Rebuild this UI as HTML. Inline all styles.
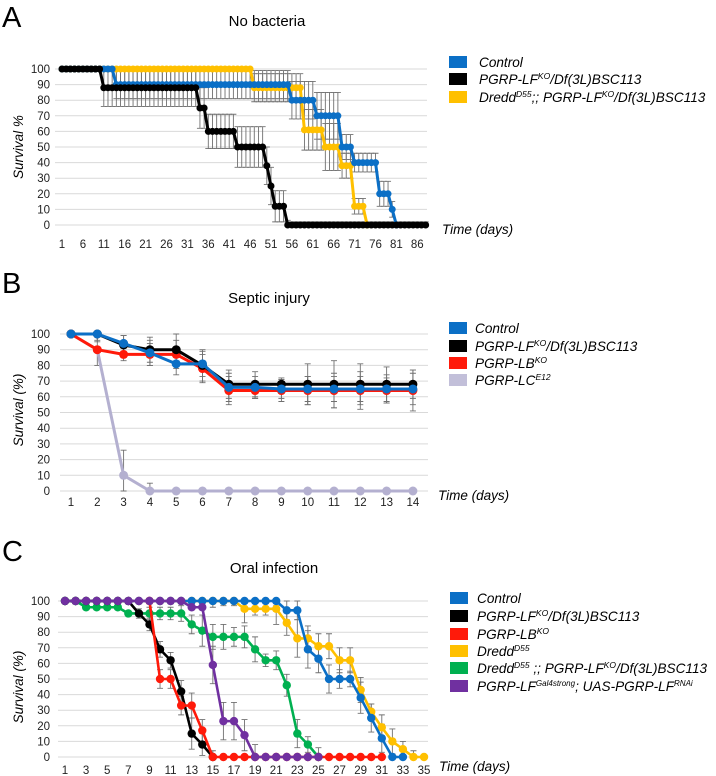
<!DOCTYPE html>
<html><head><meta charset="utf-8"><style>
html,body{margin:0;padding:0;background:#fff;}
svg{display:block;font-family:"Liberation Sans",sans-serif;}
</style></head><body>
<svg id="fig" width="716" height="776" viewBox="0 0 716 776" xmlns="http://www.w3.org/2000/svg">
<g id="static">
  <text x="2" y="27" font-size="29">A</text>
  <text x="267" y="26" font-size="15" text-anchor="middle">No bacteria</text>
  <text x="2" y="293" font-size="29">B</text>
  <text x="269" y="303" font-size="15" text-anchor="middle">Septic injury</text>
  <text x="2" y="561" font-size="29">C</text>
  <text x="274" y="573" font-size="15" text-anchor="middle">Oral infection</text>

  <g font-size="13.6" font-style="italic">
    <rect x="449" y="56" width="18" height="12" fill="#0b6fc6"/>
    <text x="479" y="67">Control</text>
    <rect x="449" y="73" width="18" height="12" fill="#000"/>
    <text x="479" y="84">PGRP-LF<tspan dy="-5" font-size="8.5">KO</tspan><tspan dy="5">/Df(3L)BSC113</tspan></text>
    <rect x="449" y="91" width="18" height="12" fill="#ffc000"/>
    <text x="479" y="102">Dredd<tspan dy="-5" font-size="8.5">D55</tspan><tspan dy="5">;; PGRP-LF</tspan><tspan dy="-5" font-size="8.5">KO</tspan><tspan dy="5">/Df(3L)BSC113</tspan></text>
  </g>
  <g font-size="13.6" font-style="italic">
    <rect x="449" y="322" width="18" height="12" fill="#0b6fc6"/>
    <text x="475" y="333">Control</text>
    <rect x="449" y="340" width="18" height="12" fill="#000"/>
    <text x="475" y="351">PGRP-LF<tspan dy="-5" font-size="8.5">KO</tspan><tspan dy="5">/Df(3L)BSC113</tspan></text>
    <rect x="449" y="357" width="18" height="12" fill="#ff1a0a"/>
    <text x="475" y="368">PGRP-LB<tspan dy="-5" font-size="8.5">KO</tspan></text>
    <rect x="449" y="374" width="18" height="12" fill="#c2bfd9"/>
    <text x="475" y="385">PGRP-LC<tspan dy="-5" font-size="8.5">E12</tspan></text>
  </g>
  <g font-size="13.6" font-style="italic">
    <rect x="450" y="592" width="18" height="12" fill="#0b6fc6"/>
    <text x="477" y="603">Control</text>
    <rect x="450" y="610" width="18" height="12" fill="#000"/>
    <text x="477" y="621">PGRP-LF<tspan dy="-5" font-size="8.5">KO</tspan><tspan dy="5">/Df(3L)BSC113</tspan></text>
    <rect x="450" y="628" width="18" height="12" fill="#ff1a0a"/>
    <text x="477" y="639">PGRP-LB<tspan dy="-5" font-size="8.5">KO</tspan></text>
    <rect x="450" y="645" width="18" height="12" fill="#ffc000"/>
    <text x="477" y="656">Dredd<tspan dy="-5" font-size="8.5">D55</tspan></text>
    <rect x="450" y="662" width="18" height="12" fill="#00b050"/>
    <text x="477" y="673">Dredd<tspan dy="-5" font-size="8.5">D55</tspan><tspan dy="5"> ;; PGRP-LF</tspan><tspan dy="-5" font-size="8.5">KO</tspan><tspan dy="5">/Df(3L)BSC113</tspan></text>
    <rect x="450" y="680" width="18" height="12" fill="#7030a0"/>
    <text x="477" y="691">PGRP-LF<tspan dy="-5" font-size="8">Gal4strong</tspan><tspan dy="5">; UAS-PGRP-LF</tspan><tspan dy="-5" font-size="8">RNAi</tspan></text>
  </g>
</g>
</svg>
<script>
// ---------- Panel A data ----------
const aDays = [];
for (let d = 1; d <= 88; d++) aDays.push(d);
const aTicks = [1,6,11,16,21,26,31,36,41,46,51,56,61,66,71,76,81,86];
const aControl = [100,100,100,100,100,100,100,100,100,100,100,100,100,
 90,90,90,90,90,90,90,90,90,90,90,90,90,90,90,90,90,90,90,90,90,90,90,90,90,90,90,90,90,90,90,90,90,90,90,90,90,90,90,90,90,90,
 80,80,80,80,80,80, 70,70,70,70,70,70, 50,50,50, 40,40,40,40,40,40, 20,20,20, 10, 0];
const aControlErr = [0,0,0,0,0,0,0,0,0,0,0,0,0,
 9,9,9,9,9,9,9,9,9,9,9,9,9,9,9,9,9,9,9,9,9,9,9,9,9,9,9,9,9,9,9,9,9,9,9,9,9,9,9,9,9,9,
 12,12,12,12,12,12, 15,15,15,15,15,15, 8,8,8, 6,6,6,6,6,6, 8,8,8, 5, 0];
const aLF = [100,100,100,100,100,100,100,100,100,100,
 88,88,88,88,88,88,88,88,88,88,88,88,88,88,88,88,88,88,88,88,88,88,88,
 75,75, 60,60,60,60,60,60,60, 50,50,50,50,50,50,50, 38,25,12,12,12,
 0,0,0,0,0,0,0,0,0,0,0,0,0,0,0,0,0,0,0,0,0,0,0,0,0,0,0,0,0,0,0,0,0,0];
const aLFErr = [0,0,0,0,0,0,0,0,0,0,
 12,12,12,12,12,12,12,12,12,12,12,12,12,12,12,12,12,12,12,12,12,12,12,
 13,13, 11,11,11,11,11,11,11, 13,13,13,13,13,13,13, 12,12,10,10,10,
 3,2,2,2,2,2,2,2,2,2,2,2,2,2,2,2,2,2,2,2,2,2,2,2,2,2,2,2,2,2,2,2,2,2];
const aDredd = [100,100,100,100,100,100,100,100,100,100,100,100,100,100,100,100,100,100,100,100,100,100,100,
 100,100,100,100,100,100,100,100,100,100,100,100,100,100,100,100,100,100,100,100,100,100,100,
 88,88,88,88,88,88,88,88,88,88,88,88, 61,61,61,61,61, 50,50,50,50, 38,38,38, 12,12,12, 0];
const aDreddErr = [0,0,0,0,0,0,0,0,0,0,0,0,0,0,0,0,0,0,0,0,0,0,0,
 0,0,0,0,0,0,0,0,0,0,0,0,0,0,0,0,0,0,0,0,0,0,0,
 9,9,9,9,9,9,9,9,9,9,9,9, 13,13,13,13,13, 15,15,15,15, 8,8,8, 5,5,5, 0];

// ---------- Panel B data ----------
const bDays = [1,2,3,4,5,6,7,8,9,10,11,12,13,14];
const bControl = [100,100,94,88,81,81,66,66,65,65,65,65,65,65];
const bControlErr = [0,5,5,8,7,8,9,7,6,8,8,8,9,10];
const bLF = [100,100,93,90,90,80,68,68,68,68,68,68,68,68];
const bLFErr = [0,4,6,8,10,10,9,8,4,13,15,13,11,9];
const bLB = [100,90,87,87,87,78,64,64,64,64,64,64,64,64];
const bLBErr = [0,10,4,7,9,9,9,5,7,9,11,12,8,13];
const bLC = [100,90,10,0,0,0,0,0,0,0,0,0,0,0];
const bLCErr = [0,0,16,5,0,0,0,0,0,0,0,0,0,0];

// ---------- Panel C data ----------
const cDays = [];
for (let d = 1; d <= 35; d++) cDays.push(d);
const cTicks = [1,3,5,7,9,11,13,15,17,19,21,23,25,27,29,31,33,35];
const cControl = [100,100,100,100,100,100,100,100,100,100,100,100,100,100,100,100,100,100,100,100,100,94,94,69,63,50,50,50,38,25,12,0,0];
const cControlErr = [0,0,0,0,0,0,0,0,0,0,0,0,0,0,0,0,0,5,4,4,3,6,6,12,9,9,6,5,10,9,9,0,0];
const cLF = [100,100,100,100,100,100,100,92,85,69,62,42,15,8,0];
const cLFErr = [0,0,0,0,0,0,0,3,4,5,5,7,10,7,4];
const cLB = [null,null,null,null,null,null,null,null,100,50,50,33,33,17,0,0,0,0,0,0,0,0,0,0,0,0,0,0,0,0,0];
const cLBErr = [0,0,0,0,0,0,0,0,0,6,6,6,8,7,0,0,0,0,0,0,0,0,0,0,0,0,0,0,0,0,0];
const cDredd = [100,100,100,100,100,100,100,100,100,100,100,100,100,100,100,100,100,95,95,95,95,86,76,76,71,71,62,62,43,29,19,10,5,0,0];
const cDreddErr = [0,0,0,0,0,0,0,0,0,0,0,0,0,0,4,3,3,9,4,4,10,8,12,8,8,8,8,8,8,5,8,8,5,4,0];
const cDreddLF = [100,100,96,96,96,96,92,92,92,92,92,92,85,81,77,77,77,77,69,62,62,46,15,8,0];
const cDreddLFErr = [0,0,0,0,0,0,0,0,4,4,4,5,6,10,8,8,6,7,8,4,6,7,9,5,6];
const cRNAi = [100,100,100,100,100,100,100,100,100,100,100,100,96,96,59,23,23,14,0,0,0,0,0,0,0];
const cRNAiErr = [0,0,0,0,0,0,0,0,0,0,0,0,0,0,12,12,12,10,8,0,0,0,0,0,0];

const SVGNS = "http://www.w3.org/2000/svg";
const svg = document.getElementById('fig');
function mk(tag, attrs, parent) {
  const e = document.createElementNS(SVGNS, tag);
  for (const k in attrs) e.setAttribute(k, attrs[k]);
  (parent || svg).appendChild(e);
  return e;
}

function drawPanel(P) {
  const g = mk('g', {});
  
  
  const xs = d => P.x0 + (d - P.d0) * P.dx;
  const ys = v => P.yBottom - v * (P.yBottom - P.yTop) / 100;
  for (let v = 0; v <= 100; v += 10) {
    const gl = mk('line', {x1: P.gx0, x2: P.gx1, y1: ys(v), y2: ys(v), stroke: '#d9d9d9', 'stroke-width': 1}, g);
    
    
    const t = mk('text', {x: 50, y: ys(v) + 4, 'font-size': 11.5, 'text-anchor': 'end', fill: '#222'}, g);
    t.textContent = v;
    
    
  }
  P.ticks.forEach(d => {
    const t = mk('text', {x: xs(d), y: P.xLabelY, 'font-size': 11.5, 'text-anchor': 'middle', fill: '#222'}, g);
    t.textContent = d;
    
    
  });
  const yt = mk('text', {x: 0, y: 0, 'font-size': 13.5, 'font-style': 'italic', 'text-anchor': 'middle', transform: 'translate(23,' + P.yTitleY + ') rotate(-90)'}, g);
  yt.textContent = P.yTitle;
  
  
  const xt = mk('text', {x: P.xTitleX, y: P.xTitleY, 'font-size': 13.5, 'font-style': 'italic'}, g);
  xt.textContent = 'Time (days)';
  
  
  P.series.forEach(s => {
    s.vals.forEach((v, i) => {
      const e = s.err[i];
      if (v === null || !e) return;
      const x = xs(P.days[i]);
      const eb = mk('path', {d: 'M' + x + ' ' + ys(Math.min(100, v + e)) + 'V' + ys(Math.max(0, v - e)) +
        'M' + (x - 3) + ' ' + ys(Math.min(100, v + e)) + 'h6M' + (x - 3) + ' ' + ys(Math.max(0, v - e)) + 'h6',
        stroke: '#707070', 'stroke-width': 0.9, fill: 'none'}, g);
      
      
    });
  });
  P.series.forEach(s => {
    const sg = mk('g', {}, g);
    
    
    let pts = [];
    s.vals.forEach((v, i) => { if (v !== null) pts.push(xs(P.days[i]) + ',' + ys(v)); });
    const pl = mk('polyline', {points: pts.join(' '), fill: 'none', stroke: s.color, 'stroke-width': P.lw, 'stroke-linejoin': 'round'}, sg);
    
    
    s.vals.forEach((v, i) => {
      if (v === null) return;
      const c = mk('circle', {cx: xs(P.days[i]), cy: ys(v), r: P.r, fill: s.color}, sg);
      
      
    });
  });
}

drawPanel({name: 'panel-a', days: aDays, ticks: aTicks, d0: 1, x0: 62, dx: 4.18, yTop: 69, yBottom: 225,
  gx0: 55, gx1: 427, xLabelY: 248, yTitle: 'Survival %', yTitleY: 147, xTitleX: 442, xTitleY: 234, lw: 3, r: 3.5,
  series: [
    {name: 'a-dredd-lf', vals: aDredd, err: aDreddErr, color: '#ffc000'},
    {name: 'a-control', vals: aControl, err: aControlErr, color: '#0b6fc6'},
    {name: 'a-lf', vals: aLF, err: aLFErr, color: '#000000'}
  ]});
drawPanel({name: 'panel-b', days: bDays, ticks: bDays, d0: 1, x0: 71, dx: 26.3, yTop: 334, yBottom: 491,
  gx0: 60, gx1: 428, xLabelY: 506, yTitle: 'Survival (%)', yTitleY: 410, xTitleX: 438, xTitleY: 500, lw: 3, r: 4.5,
  series: [
    {name: 'b-lc', vals: bLC, err: bLCErr, color: '#b4b0d0'},
    {name: 'b-lb', vals: bLB, err: bLBErr, color: '#ff1a0a'},
    {name: 'b-lf', vals: bLF, err: bLFErr, color: '#000000'},
    {name: 'b-control', vals: bControl, err: bControlErr, color: '#0b6fc6'}
  ]});
drawPanel({name: 'panel-c', days: cDays, ticks: cTicks, d0: 1, x0: 65, dx: 10.56, yTop: 601, yBottom: 757,
  gx0: 58, gx1: 428, xLabelY: 774, yTitle: 'Survival (%)', yTitleY: 687, xTitleX: 439, xTitleY: 771, lw: 2.6, r: 4.2,
  series: [
    {name: 'c-dredd', vals: cDredd, err: cDreddErr, color: '#ffc000'},
    {name: 'c-control', vals: cControl, err: cControlErr, color: '#0b6fc6'},
    {name: 'c-dredd-lf', vals: cDreddLF, err: cDreddLFErr, color: '#00b050'},
    {name: 'c-lf', vals: cLF, err: cLFErr, color: '#000000'},
    {name: 'c-lb', vals: cLB, err: cLBErr, color: '#ff1a0a'},
    {name: 'c-rnai', vals: cRNAi, err: cRNAiErr, color: '#7030a0'}
  ]});
</script>
</body></html>
